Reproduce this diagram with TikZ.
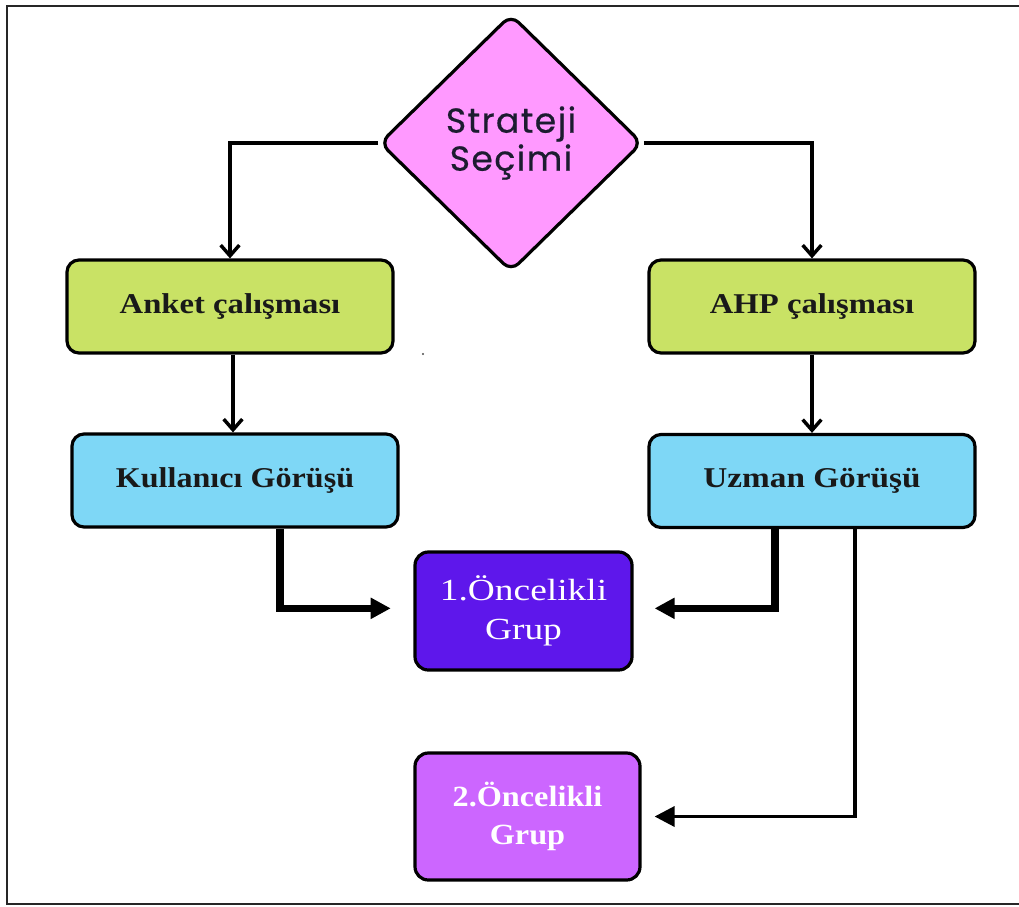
\documentclass[tikz,border=0pt]{standalone}
\usepackage{fontspec}
\setmainfont{Liberation Serif}
\newfontfamily\popfont[LetterSpace=4,FakeBold=0.5]{Poppins}
\usepackage{graphicx}
\usetikzlibrary{shapes.geometric,arrows.meta}
\definecolor{pinkd}{HTML}{FF99FF}
\definecolor{lime}{HTML}{C9E265}
\definecolor{skyb}{HTML}{7ED7F6}
\definecolor{violetA}{HTML}{5E17EB}
\definecolor{violetB}{HTML}{CC66FF}
\definecolor{navytext}{HTML}{1C1C30}
\newcommand{\sx}[2]{\scalebox{#1}[1]{#2}}
\tikzset{
  stepbox/.style={draw=black, line width=2.4pt, rounded corners=9pt,
    minimum width=244.5pt, minimum height=69.75pt, inner sep=0pt,
    font=\fontsize{21.5}{25}\selectfont\bfseries, text=black!90},
  grpbox/.style={draw=black, line width=2.4pt, rounded corners=10pt,
    inner sep=0pt, text=white, align=center},
  thinl/.style={line width=2.6pt},
  thickl/.style={line width=5.5pt},
  barb/.style={-{Straight Barb[length=8pt,width=14pt,line width=2.6pt]}},
  tri/.style={-{Triangle[length=15pt,width=15pt]}}
}
\begin{document}
\begin{tikzpicture}[x=0.75pt,y=-0.75pt]
\useasboundingbox[fill=white] (0,0) rectangle (1019,906);
\draw[line width=2.2pt, black!85] (1019,6) -- (7,6) -- (7,904) -- (1019,904);

\node[diamond, draw=black, line width=2.4pt, rounded corners=8pt, fill=pinkd,
      minimum width=197pt, minimum height=193pt, inner sep=0pt,
      text=navytext, align=center, font=\popfont\fontsize{26}{28.5}\selectfont]
  (dia) at (511,143) {Strateji\\Seçimi};

\node[stepbox, fill=lime] (anket) at (230,306.5) {\sx{1.14}{Anket çalışması}};
\node[stepbox, fill=lime] (ahp) at (812,306.5) {\sx{1.14}{AHP çalışması}};
\node[stepbox, fill=skyb] (kull) at (235,480.5) {\sx{1.12}{Kullanıcı Görüşü}};
\node[stepbox, fill=skyb] (uzman) at (812,481) {\sx{1.16}{Uzman Görüşü}};

\node[grpbox, fill=violetA, minimum width=162.75pt, minimum height=88.5pt,
      font=\fontsize{23}{29}\selectfont] (g1) at (523.5,611)
  {\sx{1.22}{1.Öncelikli}\\\sx{1.22}{Grup}};
\node[grpbox, fill=violetB, minimum width=168.75pt, minimum height=95.25pt,
      font=\fontsize{22}{28}\selectfont\bfseries] (g2) at (527.5,816.5)
  {\sx{1.1}{2.Öncelikli}\\\sx{1.1}{Grup}};

\fill[black!70] (423,354) circle (1.2);

\draw[thinl, barb] (dia.west) -| (anket.north);
\draw[thinl, barb] (dia.east) -| (ahp.north);
\draw[thinl, barb] ([xshift=2.25pt]anket.south) -- ([xshift=2.25pt]anket.south |- kull.north);
\draw[thinl, barb] (ahp.south) -- (uzman.north);

\draw[thickl, tri, shorten >=17pt] ([xshift=33.75pt]kull.south) |- ([yshift=2pt]g1.west);
\draw[thickl, tri, shorten >=15.75pt] ([xshift=-27.75pt]uzman.south) |- ([yshift=2pt]g1.east);
\draw[thinl, tri, shorten >=9.75pt] ([xshift=32.25pt]uzman.south) |- (g2.east);
\end{tikzpicture}
\end{document}
